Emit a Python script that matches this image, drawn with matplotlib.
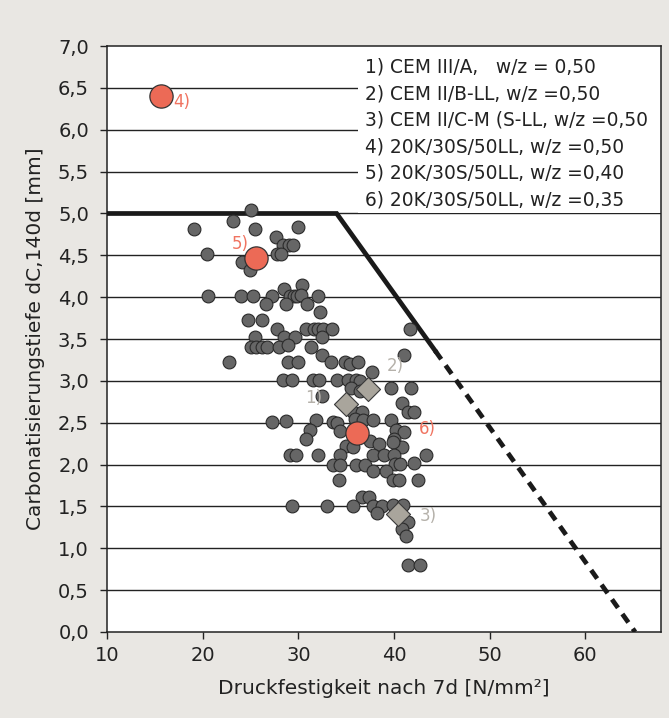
import matplotlib.pyplot as plt
from matplotlib.ticker import FuncFormatter
from matplotlib.patches import Rectangle
import numpy as np

# Messpunkte (grau): Druckfestigkeit 7d, Carbonatisierungstiefe
fest_x = [25.05, 23.2, 19.1, 25.5, 30.0, 27.7, 28.4, 29.05, 29.4,
          20.4, 27.8, 28.2, 24.1, 24.9,
          20.6, 24.0, 25.3, 27.2, 28.5, 29.1, 29.5, 29.9, 30.4, 30.3, 32.1,
          26.6, 28.7, 30.9, 32.3,
          24.7, 26.2,
          27.8, 30.8, 31.6, 32.1, 32.6, 33.5, 41.7,
          25.5, 28.5, 29.6, 32.5,
          25.05, 25.6, 26.2, 26.7, 28.0, 28.9, 31.3,
          32.5, 41.0,
          22.8, 28.9, 30.0, 33.4, 34.9, 35.4, 36.2,
          37.7,
          28.4, 29.3, 31.5, 32.2, 34.0, 35.2, 36.0, 36.4,
          35.5, 36.4, 39.7, 41.8,
          32.5, 40.8,
          35.7, 36.6, 41.5, 42.1,
          27.2, 28.7, 31.8, 33.6, 34.0, 35.9, 36.8, 37.8, 39.7,
          31.2, 34.3, 40.2, 41.0,
          30.8, 37.5, 38.4, 40.0,
          35.0, 35.7, 40.8, 39.9,
          29.1, 29.8, 32.1, 34.4, 37.8, 38.9, 40.0, 43.3,
          33.6, 34.4, 36.0, 37.0, 40.1, 40.6, 42.1,
          37.8, 39.2,
          34.2, 39.9, 40.5, 42.5,
          36.7, 37.4,
          29.3, 33.0, 35.7, 37.8, 38.7, 39.9, 40.9,
          38.2,
          41.5, 40.8, 41.3,
          41.5, 42.7]
tiefe_y = [5.04, 4.91, 4.81, 4.81, 4.84, 4.72, 4.62, 4.62, 4.62,
           4.52, 4.52, 4.52, 4.42, 4.32,
           4.01, 4.01, 4.01, 4.01, 4.10, 4.01, 4.01, 4.01, 4.14, 4.03, 4.02,
           3.92, 3.92, 3.92, 3.82,
           3.73, 3.73,
           3.62, 3.62, 3.62, 3.62, 3.62, 3.62, 3.62,
           3.53, 3.53, 3.53, 3.52,
           3.40, 3.40, 3.40, 3.40, 3.40, 3.43, 3.40,
           3.31, 3.31,
           3.23, 3.23, 3.23, 3.23, 3.23, 3.20, 3.23,
           3.11,
           3.01, 3.01, 3.01, 3.01, 3.01, 3.01, 3.01, 3.00,
           2.91, 2.88, 2.92, 2.92,
           2.82, 2.73,
           2.63, 2.63, 2.63, 2.63,
           2.51, 2.52, 2.53, 2.51, 2.50, 2.54, 2.53, 2.53, 2.53,
           2.41, 2.40, 2.41, 2.39,
           2.31, 2.28, 2.24, 2.31,
           2.22, 2.21, 2.21, 2.27,
           2.12, 2.12, 2.12, 2.12, 2.12, 2.12, 2.12, 2.12,
           2.00, 2.00, 2.00, 2.00, 2.01, 2.01, 2.02,
           1.92, 1.92,
           1.82, 1.81, 1.82, 1.82,
           1.61, 1.61,
           1.51, 1.51, 1.51, 1.51, 1.51, 1.52, 1.52,
           1.42,
           1.32, 1.23, 1.15,
           0.80, 0.80]

# Zemente 1) - 3) (Rauten)
cem_x = [35.0, 37.3, 40.4]
cem_y = [2.72, 2.90, 1.41]
cem_lbl = ["1)", "2)", "3)"]

# 20K/30S/50LL 4) - 6) (rote Punkte)
rot_x = [15.6, 25.6, 36.1]
rot_y = [6.40, 4.47, 2.38]
rot_lbl = ["4)", "5)", "6)"]

# Grenzlinie
grenz_x = [10, 34, 44.3]
grenz_y = [5.0, 5.0, 3.36]
grenz_dash_x = [44.3, 65.2]
grenz_dash_y = [3.36, 0.0]

legende = ["1) CEM III/A,   w/z = 0,50",
           "2) CEM II/B-LL, w/z =0,50",
           "3) CEM II/C-M (S-LL, w/z =0,50",
           "4) 20K/30S/50LL, w/z =0,50",
           "5) 20K/30S/50LL, w/z =0,40",
           "6) 20K/30S/50LL, w/z =0,35"]

bg = '#e9e7e3'
fig = plt.figure(figsize=(6.69, 7.18), dpi=100, facecolor=bg)
ax = fig.add_axes([0.16, 0.1198, 0.828, 0.816])
ax.set_facecolor('white')

ax.set_xlim(10, 67.9)
ax.set_ylim(0, 7.0)

for g in np.arange(0.5, 7.0, 0.5):
    ax.axhline(g, color='#222222', lw=1.0, zorder=1)

# weisses Feld hinter der Legende
ax.add_patch(Rectangle((0.453, 5.0), 0.547, 2.0, transform=ax.get_yaxis_transform(),
                       facecolor='white', edgecolor='none', zorder=2))
for i, t in enumerate(legende):
    ax.text(0.466, 6.75 - i * 0.318, t, transform=ax.get_yaxis_transform(),
            fontsize=13.4, va='center', ha='left', color='#222222', zorder=3)

ax.plot(grenz_x, grenz_y, color='#1a1a1a', lw=3.4, solid_joinstyle='miter', zorder=4)
ax.plot(grenz_dash_x, grenz_dash_y, color='#1a1a1a', lw=3.4, ls=(0, (2.2, 1.6)), zorder=4)

ax.scatter(fest_x, tiefe_y, s=85, color='#666666', edgecolors='#2b2b2b', linewidths=0.8, zorder=5)
ax.scatter(cem_x, cem_y, s=150, marker='D', color='#a9a59c', edgecolors='#3a3a3a', linewidths=0.8, zorder=6)
ax.scatter(rot_x, rot_y, s=280, color='#ec6a56', edgecolors='#333333', linewidths=0.9, zorder=7)

cem_off = [(-4.3, 0.08), (1.9, 0.28), (2.3, -0.03)]
for x, y, l, (dx, dy) in zip(cem_x, cem_y, cem_lbl, cem_off):
    ax.text(x + dx, y + dy, l, fontsize=12, color='#b5b1aa', va='center', zorder=8)
rot_off = [(1.3, -0.07), (-2.6, 0.17), (6.5, 0.04)]
for x, y, l, (dx, dy) in zip(rot_x, rot_y, rot_lbl, rot_off):
    ax.text(x + dx, y + dy, l, fontsize=12, color='#f07461', va='center', zorder=8)

ax.set_xticks([10, 20, 30, 40, 50, 60])
ax.set_yticks(np.arange(0, 7.01, 0.5))
ax.yaxis.set_major_formatter(FuncFormatter(lambda v, p: f"{v:.1f}".replace('.', ',')))
ax.tick_params(labelsize=14, length=5, width=1, color='#222222', labelcolor='#222222')
ax.tick_params(axis='y', pad=8)
ax.tick_params(axis='x', pad=5)
for s in ax.spines.values():
    s.set_color('#222222')
    s.set_linewidth(1.1)

ax.set_xlabel("Druckfestigkeit nach 7d [N/mm²]", fontsize=14.5, color='#222222', labelpad=10)
ax.set_ylabel("Carbonatisierungstiefe dC,140d [mm]", fontsize=14.5, color='#222222', labelpad=9)

fig.savefig("out.png", dpi=100, facecolor=bg)
